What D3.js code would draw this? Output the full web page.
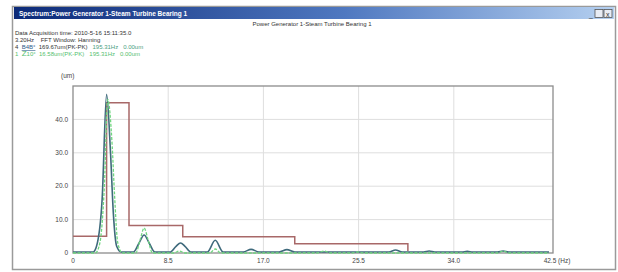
<!DOCTYPE html>
<html>
<head>
<meta charset="utf-8">
<script src="https://cdn.jsdelivr.net/npm/d3@7"></script>
<style>
  body { margin: 0; background: #fff; }
  svg { display: block; font-family: "Liberation Sans Narrow", "Liberation Sans", Arial, sans-serif; }
  text { white-space: pre; }
</style>
</head>
<body>
<div id="chart"></div>
<script>
// Alarm mask (step line), frequency breakpoints in Hz and level in um
const maskFreq  = [0, 3.0, 5.0, 9.8, 19.8, 29.9, 29.9];
const maskLevel = [5, 45, 8.2, 4.9, 2.8, 2.8, 0.6];

// Spectrum 1 (dark line)
const spec1Freq = [0, 1.8, 2.1, 2.6, 3.0, 3.35, 3.6, 3.9, 4.3, 5.4, 5.9, 6.35, 6.8, 7.3, 8.7, 9.2, 9.6, 10.0, 10.5,
  12.0, 12.7, 13.4, 15.2, 15.9, 16.6, 18.4, 19.1, 19.8, 28.2, 28.8, 29.4, 31.3, 31.8, 32.3, 34.7, 35.2, 35.7, 37.9, 38.4, 38.9, 42.5];
const spec1Amp  = [0.3, 0.3, 2, 16, 47.5, 30, 12, 2, 0.3, 0.3, 3, 5.4, 3, 0.3, 0.3, 2, 3.0, 2, 0.3,
  0.3, 3.8, 0.3, 0.3, 1.1, 0.3, 0.3, 1.0, 0.3, 0.3, 0.9, 0.3, 0.3, 0.6, 0.3, 0.3, 0.5, 0.3, 0.3, 0.6, 0.3, 0.3];

// Spectrum 2 (green dashed line)
const spec2Freq = [0, 2.0, 2.4, 2.8, 3.1, 3.5, 3.7, 4.0, 4.4, 5.6, 6.0, 6.35, 6.7, 7.1, 9.0, 9.5, 10.0,
  12.2, 12.7, 13.2, 21.8, 22.4, 23.0, 24.9, 25.4, 25.9, 37.9, 38.4, 38.9, 42.5];
const spec2Amp  = [0, 0, 3, 20, 46, 32, 18, 3, 0, 0, 4, 7.5, 4, 0, 0, 0.6, 0,
  0, 1.2, 0, 0, 0.6, 0, 0, 0.3, 0, 0, 0.6, 0, 0];

const xTicks = [0, 8.5, 17.0, 25.5, 34.0, 42.5];
const xTickLabels = ["0", "8.5", "17.0", "25.5", "34.0", "42.5 (Hz)"];
const yTicks = [0, 10, 20, 30, 40];
const yTickLabels = ["0", "10.0", "20.0", "30.0", "40.0"];

const infoLines = [
  "Data Acquisition time: 2010-5-16 15:11:35.0",
  "3.20Hz    FFT Window: Hanning"
];

const W = 618, H = 272;
const svg = d3.select("#chart").append("svg")
  .attr("width", W).attr("height", H);

// window frame
const grad = svg.append("defs").append("linearGradient")
  .attr("id", "titlebar").attr("x1", 0).attr("x2", 1);
grad.append("stop").attr("offset", "0%").attr("stop-color", "#0c2a78");
grad.append("stop").attr("offset", "55%").attr("stop-color", "#4f78c0");
grad.append("stop").attr("offset", "100%").attr("stop-color", "#b5d0f0");

svg.append("rect").attr("x", 12.5).attr("y", 6.5).attr("width", 603).attr("height", 263)
  .attr("fill", "#fff").attr("stroke", "#9a9a9a").attr("stroke-width", 1.5);
svg.append("rect").attr("x", 14).attr("y", 7).attr("width", 600).attr("height", 12)
  .attr("fill", "url(#titlebar)");
svg.append("text").attr("x", 19).attr("y", 15.5)
  .attr("fill", "#fff").attr("font-size", "6.5px").attr("font-weight", "bold")
  .text("Spectrum:Power Generator 1-Steam Turbine Bearing 1");

// window buttons
const btns = svg.append("g").attr("transform", "translate(588,9)");
btns.append("text").attr("x", 1).attr("y", 8).attr("font-size", "7px").attr("fill", "#333").text("_");
btns.append("rect").attr("x", 7).attr("y", 0.5).attr("width", 8).attr("height", 8)
  .attr("fill", "#e8ecf4").attr("stroke", "#555").attr("stroke-width", 0.8);
btns.append("rect").attr("x", 16).attr("y", 0.5).attr("width", 8).attr("height", 8)
  .attr("fill", "#e8ecf4").attr("stroke", "#555").attr("stroke-width", 0.8);
btns.append("text").attr("x", 18).attr("y", 7.5).attr("font-size", "7px").attr("fill", "#333").text("x");

// header text
svg.append("text").attr("x", 312).attr("y", 26).attr("text-anchor", "middle")
  .attr("font-size", "6px").attr("fill", "#333")
  .text("Power Generator 1-Steam Turbine Bearing 1");

svg.selectAll(".info").data(infoLines).enter().append("text")
  .attr("class", "info")
  .attr("x", 15).attr("y", (d, i) => 35 + i * 7)
  .attr("font-size", "6px").attr("fill", "#333")
  .text(d => d);

const l4 = svg.append("text").attr("x", 15).attr("y", 49).attr("font-size", "6px");
l4.append("tspan").attr("fill", "#333").text("4  ");
l4.append("tspan").attr("fill", "#2d5a8a").attr("text-decoration", "underline").text("B4B°");
l4.append("tspan").attr("fill", "#333").text("  169.67um(PK-PK)   ");
l4.append("tspan").attr("fill", "#4aa080").text("195.31Hz   0.00um");

const l5 = svg.append("text").attr("x", 15).attr("y", 56).attr("font-size", "6px").attr("fill", "#55c070");
l5.append("tspan").text("1  ");
l5.append("tspan").attr("font-size", "8px").text("Z");
l5.append("tspan").text("10°  16.58um(PK-PK)   195.31Hz   0.00um");

// scales
const x = d3.scaleLinear().domain([0, 42.5]).range([73, 549]);
const y = d3.scaleLinear().domain([0, 50]).range([253, 86]);

// grid
svg.selectAll(".vgrid").data(xTicks.slice(1, -1)).enter().append("line")
  .attr("x1", d => x(d)).attr("x2", d => x(d))
  .attr("y1", y(50)).attr("y2", y(0))
  .attr("stroke", "#dedede").attr("stroke-width", 1);
svg.selectAll(".hgrid").data(yTicks.slice(1)).enter().append("line")
  .attr("x1", x(0)).attr("x2", x(42.5) + 4)
  .attr("y1", d => y(d)).attr("y2", d => y(d))
  .attr("stroke", "#dedede").attr("stroke-width", 1);

// plot frame
svg.append("rect")
  .attr("x", x(0)).attr("y", y(50))
  .attr("width", x(42.5) + 4 - x(0)).attr("height", y(0) - y(50))
  .attr("fill", "none").attr("stroke", "#8c8c8c").attr("stroke-width", 1.3);

// tick labels
svg.selectAll(".xl").data(xTicks).enter().append("text")
  .attr("x", (d, i) => x(d) + (i === xTicks.length - 1 ? 8 : 0))
  .attr("y", 263).attr("text-anchor", "middle")
  .attr("font-size", "6.5px").attr("fill", "#444")
  .text((d, i) => xTickLabels[i]);

svg.selectAll(".yl").data(yTicks).enter().append("text")
  .attr("x", 68).attr("y", d => y(d)).attr("dy", "0.35em")
  .attr("text-anchor", "end")
  .attr("font-size", "6.5px").attr("fill", "#444")
  .text((d, i) => yTickLabels[i]);

svg.append("text").attr("x", 61).attr("y", 78)
  .attr("font-size", "6.5px").attr("fill", "#444").text("(um)");

// series
const line = d3.line().x(d => x(d[0])).y(d => y(d[1]));

const maskPts = d3.zip(maskFreq, maskLevel);
svg.append("path").datum(maskPts)
  .attr("fill", "none").attr("stroke", "#a86868").attr("stroke-width", 1.5)
  .attr("d", line.curve(d3.curveStepAfter));

const s1 = d3.zip(spec1Freq, spec1Amp);
svg.append("path").datum(s1)
  .attr("fill", "none").attr("stroke", "#3f6a7c").attr("stroke-width", 1.6)
  .attr("d", d3.line().x(d => x(d[0])).y(d => y(d[1])).curve(d3.curveMonotoneX));

const s2 = d3.zip(spec2Freq, spec2Amp);
svg.append("path").datum(s2)
  .attr("fill", "none").attr("stroke", "#6fd67f").attr("stroke-width", 1.3)
  .attr("stroke-dasharray", "3,1.5")
  .attr("d", d3.line().x(d => x(d[0])).y(d => y(d[1])).curve(d3.curveMonotoneX));
</script>
</body>
</html>
